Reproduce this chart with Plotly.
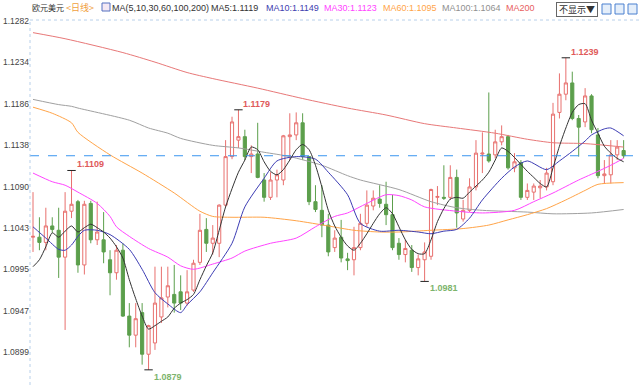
import plotly.graph_objects as go

# ---------------- data ----------------
opens = [
    1.1032, 1.1032, 1.1026, 1.1045, 1.1040, 1.1009, 1.1062, 1.1073, 1.1000, 1.1071,
    1.1029, 1.1029, 1.1006, 1.0991, 1.1017, 1.0941, 1.0919, 1.0945, 1.0897, 1.0910,
    1.0940, 1.0963, 1.0966, 1.0969, 1.0956, 1.0971, 1.1003, 1.1041, 1.1025, 1.1025,
    1.1069, 1.1125, 1.1144, 1.1148, 1.1125, 1.1128, 1.1098, 1.1078, 1.1098, 1.1098,
    1.1148, 1.1150, 1.1164, 1.1125, 1.1073, 1.1063, 1.1046, 1.1020, 1.1032, 1.1007,
    1.1006, 1.1020, 1.1048, 1.1068, 1.1076, 1.1070, 1.1058, 1.1025, 1.1012, 1.1017,
    1.0997, 1.1006, 1.1010, 1.1078, 1.1078, 1.1078, 1.1101, 1.1053, 1.1063, 1.1090,
    1.1128, 1.1128, 1.1127, 1.1142, 1.1148, 1.1112, 1.1118, 1.1078, 1.1084, 1.1089,
    1.1090, 1.1096, 1.1176, 1.1197, 1.1210, 1.1169, 1.1165, 1.1195, 1.1150, 1.1103,
    1.1104, 1.1127, 1.1132,
]
highs = [
    1.1084, 1.1055, 1.1066, 1.1055, 1.1066, 1.1084, 1.1109, 1.1075, 1.1074, 1.1074,
    1.1073, 1.1061, 1.1017, 1.1023, 1.1025, 1.0956, 1.0956, 1.0956, 1.0931, 1.0998,
    1.0998, 1.0998, 1.1000, 1.0988, 1.0994, 1.1006, 1.1059, 1.1054, 1.1046, 1.1070,
    1.1144, 1.1171, 1.1179, 1.1156, 1.1138, 1.1164, 1.1106, 1.1107, 1.1110, 1.1150,
    1.1175, 1.1176, 1.1175, 1.1125, 1.1092, 1.1092, 1.1059, 1.1040, 1.1052, 1.1014,
    1.1044, 1.1059, 1.1086, 1.1086, 1.1092, 1.1096, 1.1081, 1.1031, 1.1029, 1.1023,
    1.1012, 1.1026, 1.1088, 1.1091, 1.1115, 1.1115, 1.1110, 1.1075, 1.1100, 1.1144,
    1.1153, 1.1199, 1.1156, 1.1161, 1.1150, 1.1129, 1.1121, 1.1094, 1.1094, 1.1098,
    1.1112, 1.1187, 1.1221, 1.1239, 1.1223, 1.1173, 1.1204, 1.1197, 1.1158, 1.1121,
    1.1144, 1.1144, 1.1144,
]
lows = [
    1.1015, 1.1017, 1.1017, 1.1037, 1.0985, 1.0925, 1.1054, 1.0991, 1.0989, 1.1025,
    1.1023, 1.1002, 1.0965, 1.0983, 1.0940, 1.0905, 1.0905, 1.0885, 1.0879, 1.0902,
    1.0933, 1.0951, 1.0945, 1.0948, 1.0953, 1.0969, 1.1000, 1.1015, 1.1012, 1.1009,
    1.1067, 1.1122, 1.1135, 1.1121, 1.1106, 1.1100, 1.1073, 1.1075, 1.1078, 1.1092,
    1.1121, 1.1144, 1.1121, 1.1069, 1.1061, 1.1032, 1.1010, 1.1015, 1.1003, 1.0994,
    1.0988, 1.1017, 1.1044, 1.1063, 1.1066, 1.1046, 1.1017, 1.1006, 1.1003, 1.0992,
    1.0988, 1.0981, 1.1006, 1.1069, 1.1075, 1.1075, 1.1043, 1.1050, 1.1061, 1.1086,
    1.1106, 1.1118, 1.1123, 1.1138, 1.1110, 1.1107, 1.1075, 1.1075, 1.1075, 1.1077,
    1.1086, 1.1092, 1.1169, 1.1190, 1.1167, 1.1125, 1.1159, 1.1152, 1.1100, 1.1094,
    1.1094, 1.1121, 1.1123,
]
closes = [
    1.1033, 1.1026, 1.1045, 1.1041, 1.1009, 1.1062, 1.1070, 1.1000, 1.1070, 1.1029,
    1.1038, 1.1015, 1.0991, 1.1017, 1.0941, 1.0919, 1.0938, 1.0897, 1.0930, 1.0956,
    1.0962, 1.0976, 1.0956, 1.0956, 1.0969, 1.1002, 1.1040, 1.1025, 1.1031, 1.1069,
    1.1125, 1.1165, 1.1148, 1.1125, 1.1128, 1.1101, 1.1078, 1.1098, 1.1104, 1.1149,
    1.1150, 1.1164, 1.1125, 1.1073, 1.1064, 1.1046, 1.1015, 1.1031, 1.1008, 1.1005,
    1.1020, 1.1048, 1.1069, 1.1077, 1.1071, 1.1058, 1.1020, 1.1012, 1.1019, 1.0997,
    1.1007, 1.1015, 1.1087, 1.1079, 1.1077, 1.1101, 1.1060, 1.1063, 1.1090, 1.1129,
    1.1129, 1.1120, 1.1142, 1.1148, 1.1112, 1.1119, 1.1078, 1.1086, 1.1091, 1.1091,
    1.1106, 1.1174, 1.1197, 1.1210, 1.1169, 1.1159, 1.1195, 1.1156, 1.1103, 1.1105,
    1.1127, 1.1136, 1.1126,
]

ma5 = [
    1.0998, 1.1006, 1.1021, 1.1037, 1.1032, 1.1039, 1.1045, 1.1038, 1.1043, 1.1047,
    1.1043, 1.1038, 1.1031, 1.1021, 1.1008, 1.0983, 1.0961, 1.0941, 1.0926, 1.0930,
    1.0935, 1.0940, 1.0950, 1.0956, 1.0960, 1.0966, 1.0983, 1.0999, 1.1014, 1.1040,
    1.1067, 1.1088, 1.1107, 1.1121, 1.1136, 1.1133, 1.1119, 1.1108, 1.1104, 1.1110,
    1.1121, 1.1133, 1.1139, 1.1133, 1.1115, 1.1090, 1.1063, 1.1045, 1.1032, 1.1022,
    1.1017, 1.1025, 1.1036, 1.1048, 1.1059, 1.1066, 1.1059, 1.1044, 1.1029, 1.1018,
    1.1013, 1.1013, 1.1029, 1.1050, 1.1065, 1.1076, 1.1078, 1.1077, 1.1084, 1.1091,
    1.1098, 1.1107, 1.1121, 1.1135, 1.1131, 1.1124, 1.1116, 1.1108, 1.1101, 1.1094,
    1.1090, 1.1112, 1.1137, 1.1158, 1.1176, 1.1185, 1.1186, 1.1167, 1.1152, 1.1137,
    1.1129, 1.1123, 1.1119,
]
ma10_idx = [0, 2, 4, 5, 6, 7, 8, 10, 12, 15, 17, 19, 21, 23, 24, 26, 28, 31, 33, 36,
            38, 41, 44, 46, 49, 51, 54, 57, 60, 62, 64, 66, 68, 70, 73, 75, 77, 80, 82, 84,
            86, 87, 89, 90, 92]
ma10 = [1.1044, 1.1031, 1.1018, 1.1017, 1.1023, 1.1033, 1.1040, 1.1040, 1.1035, 1.1018,
        1.0995, 1.0968, 1.0955, 1.0945, 1.0954, 1.0969, 1.0991, 1.1025, 1.1067, 1.1100,
        1.1120, 1.1125, 1.1122, 1.1107, 1.1081, 1.1048, 1.1039, 1.1040, 1.1038, 1.1036,
        1.1039, 1.1041, 1.1054, 1.1075, 1.1100, 1.1113, 1.1120, 1.1110, 1.1120, 1.1131,
        1.1143, 1.1150, 1.1157, 1.1158, 1.1149]
ma30_idx = [0, 3, 5, 7, 10, 12, 13, 15, 18, 21, 23, 25, 28, 31, 33, 37, 41, 44, 47, 49,
            52, 55, 57, 59, 61, 66, 70, 75, 78, 81, 85, 88, 90, 92]
ma30 = [1.1106, 1.1096, 1.1092, 1.1084, 1.1071, 1.1056, 1.1044, 1.1033, 1.1019, 1.1009,
        1.0999, 1.0995, 1.1001, 1.1008, 1.1016, 1.1025, 1.1031, 1.1044, 1.1056, 1.1060,
        1.1071, 1.1081, 1.1080, 1.1075, 1.1067, 1.1062, 1.1060, 1.1063, 1.1073, 1.1083,
        1.1098, 1.1108, 1.1115, 1.1123]
ma60_idx = [0, 3, 6, 7, 12, 17, 22, 26, 28, 31, 36, 41, 46, 50, 54, 57, 62, 67, 71, 74,
            77, 80, 83, 86, 88, 92]
ma60 = [1.1182, 1.1175, 1.1164, 1.1153, 1.1127, 1.1106, 1.1083, 1.1062, 1.1056, 1.1055,
        1.1055, 1.1051, 1.1045, 1.1040, 1.1038, 1.1038, 1.1040, 1.1042, 1.1046, 1.1052,
        1.1058, 1.1065, 1.1075, 1.1086, 1.1093, 1.1095]
ma100_idx = [0, 4, 6, 7, 15, 18, 21, 23, 28, 32, 36, 40, 45, 49, 51, 57, 62, 66, 70, 77,
             81, 87, 92]
ma100 = [1.1191, 1.1185, 1.1183, 1.1181, 1.1167, 1.1158, 1.1152, 1.1146, 1.1138, 1.1135,
         1.1130, 1.1125, 1.1115, 1.1103, 1.1098, 1.1087, 1.1073, 1.1066, 1.1063, 1.1061,
         1.1059, 1.1060, 1.1064]
ma200_idx = [0, 5, 14, 19, 24, 28, 35, 42, 49, 55, 61, 66, 72, 77, 81, 86, 92]
ma200 = [1.1268, 1.1261, 1.1245, 1.1234, 1.1222, 1.1215, 1.1204, 1.1192, 1.1181, 1.1173,
         1.1163, 1.1158, 1.1152, 1.1145, 1.1141, 1.1140, 1.1136]

tick_labels = ["1.1282", "1.1234", "1.1186", "1.1138", "1.1090",
               "1.1043", "1.0995", "1.0947", "1.0899"]
peak_idx = [6, 32, 83]
trough_idx = [18, 61]

# ---------------- figure ----------------
W, H = 640, 390
ML, MR, MT, MB = 30, 0, 20, 5


def px(x):
    return (x - ML) / (W - ML - MR)


def py(y):
    return (H - MB - y) / (H - MT - MB)


UP = "#e8706e"
DOWN = "#5c9f4c"
idx = list(range(len(opens)))

fig = go.Figure()
fig.add_trace(go.Candlestick(
    x=idx, open=opens, high=highs, low=lows, close=closes,
    increasing=dict(line=dict(color=UP, width=1), fillcolor="#ffffff"),
    decreasing=dict(line=dict(color=DOWN, width=1), fillcolor=DOWN),
    whiskerwidth=0, hoverinfo="skip", showlegend=False,
))

line_specs = [
    (ma200_idx, ma200, "#e87878"),
    (ma100_idx, ma100, "#a0a0a0"),
    (ma60_idx, ma60, "#ffa448"),
    (ma30_idx, ma30, "#ff44ff"),
    (ma10_idx, ma10, "#3c3cb4"),
    (idx, ma5, "#333333"),
]
for xs, ys, col in line_specs:
    fig.add_trace(go.Scatter(
        x=xs, y=ys, mode="lines",
        line=dict(color=col, width=1, shape="spline", smoothing=0.7),
        hoverinfo="skip", showlegend=False,
    ))

# extreme markers
fig.add_trace(go.Scatter(
    x=peak_idx + trough_idx,
    y=[highs[i] for i in peak_idx] + [lows[i] for i in trough_idx],
    mode="markers",
    marker=dict(symbol="line-ew", size=6, line=dict(color="#222222", width=1)),
    hoverinfo="skip", showlegend=False,
))

annotations = []
for i in peak_idx:
    annotations.append(dict(
        x=i, y=highs[i], xref="x", yref="y", text=f"{highs[i]:.4f}",
        showarrow=False, xanchor="left", yanchor="bottom", xshift=3, yshift=-1,
        font=dict(family="Liberation Sans, Arial", size=9, color="#e05a5a", weight="bold"),
    ))
for i in trough_idx:
    annotations.append(dict(
        x=i, y=lows[i], xref="x", yref="y", text=f"{lows[i]:.4f}",
        showarrow=False, xanchor="left", yanchor="top", xshift=3, yshift=0,
        font=dict(family="Liberation Sans, Arial", size=9, color="#7db46c", weight="bold"),
    ))

hy = py(8)
header = [
    (32, "欧元美元", "#333333", "Noto Sans CJK SC", 8),
    (66, "<日线>", "#f0a040", "Noto Sans CJK SC", 9),
    (112, "MA(5,10,30,60,100,200)", "#333333", "Liberation Sans, Arial", 9),
    (211, f"MA5:{ma5[-1]:.4f}", "#333333", "Liberation Sans, Arial", 9),
    (266, f"MA10:{ma10[-1]:.4f}", "#4040b0", "Liberation Sans, Arial", 9),
    (324, f"MA30:{ma30[-1]:.4f}", "#ff44ff", "Liberation Sans, Arial", 9),
    (383, f"MA60:{ma60[-1]:.4f}", "#ffa448", "Liberation Sans, Arial", 9),
    (442, f"MA100:{ma100[-1]:.4f}", "#909090", "Liberation Sans, Arial", 9),
    (506, "MA200", "#e86060", "Liberation Sans, Arial", 9),
]
for x0, txt, col, fam, fs in header:
    annotations.append(dict(
        x=px(x0), y=hy, xref="paper", yref="paper", text=txt, showarrow=False,
        xanchor="left", yanchor="middle", xshift=-2,
        font=dict(family=fam, size=fs, color=col),
    ))
annotations.append(dict(
    x=px(577), y=py(9), xref="paper", yref="paper", text=" 不显示▼ ", showarrow=False,
    xanchor="center", yanchor="middle",
    font=dict(family="Noto Sans CJK SC", size=9, color="#333333"),
    bordercolor="#666666", borderwidth=1, borderpad=0, bgcolor="#ffffff",
))

shapes = [
    # current price dashed line
    dict(type="line", xref="paper", yref="y", x0=0, x1=1,
         y0=closes[-1], y1=closes[-1], line=dict(color="#3a96f0", width=1, dash="dash")),
    # dotted left axis and top border
    dict(type="line", xref="paper", yref="paper", x0=0, x1=0, y0=0, y1=1,
         line=dict(color="#b8d0ea", width=1, dash="dot")),
    dict(type="line", xref="paper", yref="paper", x0=0, x1=1, y0=1, y1=1,
         line=dict(color="#b8d0ea", width=1, dash="dot")),
    # small chart icon in header
    dict(type="rect", xref="paper", yref="paper", x0=px(102), x1=px(110), y0=py(11), y1=py(3),
         line=dict(color="#5570c0", width=1), fillcolor="#f4e8f4"),
]
for x0 in (602, 615, 628):
    shapes.append(dict(type="rect", xref="paper", yref="paper",
                       x0=px(x0), x1=px(x0 + 9), y0=py(14), y1=py(4),
                       line=dict(color="#4a80d0", width=1), fillcolor="#e4eefa"))

fig.update_layout(
    width=W, height=H,
    margin=dict(l=ML, r=MR, t=MT, b=MB, autoexpand=False),
    paper_bgcolor="#ffffff", plot_bgcolor="#ffffff",
    showlegend=False,
    annotations=annotations, shapes=shapes,
    xaxis=dict(range=[-0.467, 94.55], visible=False, rangeslider=dict(visible=False),
               showgrid=False, zeroline=False, automargin=False),
    yaxis=dict(range=[1.08615, 1.12826], tickvals=[float(t) for t in tick_labels],
               ticktext=tick_labels, showgrid=False, zeroline=False, ticks="",
               automargin=False, ticklabelstandoff=0,
               tickfont=dict(family="Liberation Sans, Arial", size=8.5, color="#444444")),
)

fig.write_html(
    "out.html",
    config={"displayModeBar": False},
    post_script="document.body.style.margin='0';document.body.style.padding='0';",
)
